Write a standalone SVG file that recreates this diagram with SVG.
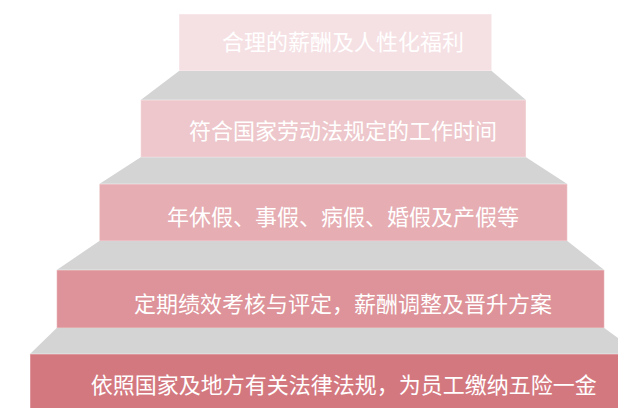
<svg xmlns="http://www.w3.org/2000/svg" width="618" height="408" viewBox="0 0 618 408">
<style>
.tread{fill:#D4D4D4;}
.riser{stroke:#FFFFFF;stroke-opacity:0.45;stroke-width:1;}
.lbl{font-family:"Noto Sans CJK SC","Noto Sans",sans-serif;font-size:22px;fill:#FFFFFF;text-anchor:middle;}
</style>
<rect width="618" height="408" fill="#FFFFFF"/>
<g id="step1">
<rect class="riser" x="179" y="14" width="312.7" height="57" fill="#F5E1E4"/>
<text class="lbl" x="343" y="49.5">合理的薪酬及人性化福利</text>
</g>
<polygon class="tread" points="179,71 491.7,71 526,100 140.7,100"/>
<g id="step2">
<rect class="riser" x="140.7" y="100" width="385.3" height="57.3" fill="#EDC7CB"/>
<text class="lbl" x="343" y="139">符合国家劳动法规定的工作时间</text>
</g>
<polygon class="tread" points="140.7,157.3 526,157.3 567.3,184 99.3,184"/>
<g id="step3">
<rect class="riser" x="99.3" y="184" width="468" height="57" fill="#E6ADB2"/>
<text class="lbl" x="343" y="225">年休假、事假、病假、婚假及产假等</text>
</g>
<polygon class="tread" points="99.3,241 567.3,241 604.3,270 56.7,270"/>
<g id="step4">
<rect class="riser" x="56.7" y="270" width="547.6" height="58" fill="#DD9399"/>
<text class="lbl" x="343" y="311.5">定期绩效考核与评定，薪酬调整及晋升方案</text>
</g>
<polygon class="tread" points="56.7,328 604.3,328 640,354 30,354"/>
<g id="step5">
<rect class="riser" x="30" y="354" width="610" height="60" fill="#D4787F"/>
<text class="lbl" x="343.7" y="392.5">依照国家及地方有关法律法规，为员工缴纳五险一金</text>
</g>
</svg>
